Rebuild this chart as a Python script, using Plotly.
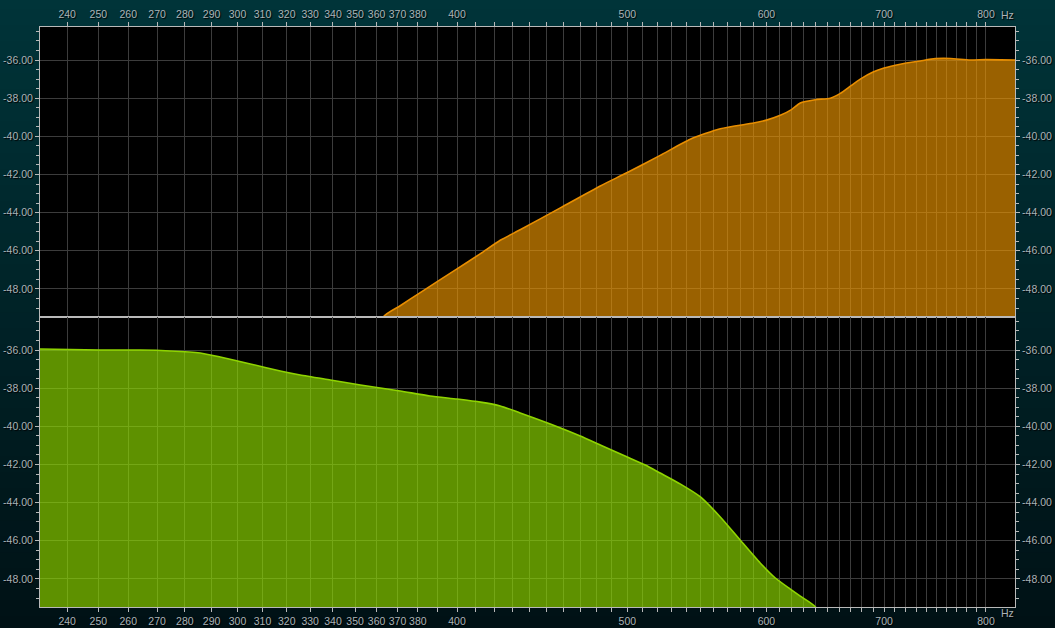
import math
import plotly.graph_objects as go

# ---------------- data ----------------
top_freq = [231.6, 360.0, 363.2, 371.3, 381.2, 400.0, 412.5, 423.3, 434.5, 458.0,
            482.6, 500.0, 522.0, 543.0, 564.8, 590.0, 600.0, 611.0, 620.0, 627.2,
            639.6, 652.4, 661.0, 670.0, 678.5, 690.0, 700.0, 715.0, 734.0, 748.6,
            763.5, 783.7, 800.0, 831.0]
top_db = [-52.0, -52.0, -49.47, -48.88, -48.19, -46.95, -46.15, -45.45, -44.90, -43.75,
          -42.60, -41.90, -41.00, -40.15, -39.60, -39.30, -39.15, -38.90, -38.60, -38.25,
          -38.08, -38.00, -37.75, -37.36, -37.00, -36.63, -36.42, -36.22, -36.05, -35.93,
          -35.92, -36.00, -35.98, -36.00]

bot_freq = [231.6, 250.6, 264.1, 274.7, 285.7, 293.3, 305.1, 317.3, 325.7, 338.8,
            352.4, 371.3, 386.1, 400.0, 412.5, 423.3, 434.5, 452.0, 470.1, 482.6,
            500.0, 511.9, 522.0, 536.1, 550.3, 564.8, 579.7, 595.1, 607.0, 619.1,
            627.2, 639.8, 650.0, 831.0]
bot_db = [-35.95, -36.00, -36.00, -36.05, -36.16, -36.37, -36.73, -37.10, -37.31, -37.57,
          -37.83, -38.15, -38.41, -38.57, -38.73, -38.93, -39.30, -39.88, -40.51, -40.98,
          -41.61, -42.03, -42.45, -43.03, -43.70, -44.75, -45.96, -47.16, -47.95, -48.53,
          -48.90, -49.47, -51.00, -51.00]

grid_freqs = list(range(240, 810, 10))
labeled_freqs = list(range(240, 390, 10)) + [400, 500, 600, 700, 800]
major_db = [-36, -38, -40, -42, -44, -46, -48]

x_min, x_max = 231.6, 831.0
y_min, y_max = -49.47, -34.27
floor_db = -60.0

# ---------------- styling ----------------
W, H = 1055, 628
ML, MR, MT, MB = 40, 40, 27, 21
font_main = dict(family="Liberation Sans, Arial, sans-serif", size=10.5, color="#aab3b7",
                 shadow="1px 1px 1px #000000")
grid_col = "#3c3c3c"
frame_col = "#b9b9b9"

ticktext = [str(f) if f in labeled_freqs else "" for f in grid_freqs]
ytext = ["%.2f" % v for v in major_db]

fig = go.Figure()

# top panel (orange)
fig.add_trace(go.Scatter(x=[x_min, x_max], y=[floor_db, floor_db], mode="lines",
                         line=dict(width=0), hoverinfo="skip", showlegend=False,
                         xaxis="x", yaxis="y"))
fig.add_trace(go.Scatter(x=top_freq, y=top_db, mode="lines", fill="tonexty",
                         fillcolor="rgba(248,156,0,0.62)",
                         line=dict(color="#e88e00", width=1.6, shape="spline", smoothing=0.6),
                         showlegend=False, xaxis="x", yaxis="y"))
# bottom panel (green)
fig.add_trace(go.Scatter(x=[x_min, x_max], y=[floor_db, floor_db], mode="lines",
                         line=dict(width=0), hoverinfo="skip", showlegend=False,
                         xaxis="x2", yaxis="y2"))
fig.add_trace(go.Scatter(x=bot_freq, y=bot_db, mode="lines", fill="tonexty",
                         fillcolor="rgba(152,234,0,0.62)",
                         line=dict(color="#8fd400", width=1.6, shape="spline", smoothing=0.6),
                         showlegend=False, xaxis="x2", yaxis="y2"))
# invisible traces to hold right-side axes
fig.add_trace(go.Scatter(x=[x_min], y=[y_min], mode="markers", marker=dict(opacity=0),
                         hoverinfo="skip", showlegend=False, xaxis="x", yaxis="y3"))
fig.add_trace(go.Scatter(x=[x_min], y=[y_min], mode="markers", marker=dict(opacity=0),
                         hoverinfo="skip", showlegend=False, xaxis="x2", yaxis="y4"))

xr = [math.log10(x_min), math.log10(x_max)]
xcommon = dict(type="log", range=xr, tickmode="array", tickvals=grid_freqs,
               ticktext=ticktext, showgrid=True, gridcolor=grid_col, gridwidth=1,
               ticks="outside", ticklen=4, tickcolor=frame_col, showline=True,
               linecolor=frame_col, linewidth=1, mirror=True, zeroline=False,
               tickfont=font_main, fixedrange=True, automargin=False)
ycommon = dict(range=[y_min, y_max], tickmode="array", tickvals=major_db, ticktext=ytext,
               showgrid=True, gridcolor=grid_col, gridwidth=1, ticks="outside", ticklen=4,
               tickcolor=frame_col, showline=True, linecolor=frame_col, linewidth=1,
               mirror=True, zeroline=False, tickfont=font_main, fixedrange=True,
               automargin=False,
               minor=dict(dtick=0.5, tick0=-36, ticks="outside", ticklen=3,
                          tickcolor=frame_col, showgrid=False))
yright = dict(range=[y_min, y_max], tickmode="array", tickvals=major_db, ticktext=ytext,
              showgrid=False, ticks="outside", ticklen=4, tickcolor=frame_col,
              showline=False, zeroline=False, tickfont=font_main, fixedrange=True,
              side="right", automargin=False,
              minor=dict(dtick=0.5, tick0=-36, ticks="outside", ticklen=3,
                         tickcolor=frame_col, showgrid=False))

fig.update_layout(
    width=W, height=H,
    margin=dict(l=ML, r=MR, t=MT, b=MB, pad=0, autoexpand=False),
    paper_bgcolor="#00252b", plot_bgcolor="#000000",
    xaxis=dict(xcommon, domain=[0, 1], anchor="y", side="top"),
    xaxis2=dict(xcommon, domain=[0, 1], anchor="y2", side="bottom"),
    yaxis=dict(ycommon, domain=[0.5, 1], anchor="x"),
    yaxis2=dict(ycommon, domain=[0, 0.5], anchor="x2"),
    yaxis3=dict(yright, overlaying="y", anchor="x"),
    yaxis4=dict(yright, overlaying="y2", anchor="x2"),
    showlegend=False,
)

# background gradient (paper) + black plot area
pw, ph = W - ML - MR, H - MT - MB
x0p, x1p = -ML / pw - 0.01, 1 + MR / pw + 0.01
y0p, y1p = -MB / ph - 0.01, 1 + MT / ph + 0.01
top_rgb = (0, 52, 57)
bot_rgb = (0, 17, 21)
n = 40
shapes = []
for i in range(n):
    t = i / (n - 1)
    c = tuple(round(top_rgb[k] + (bot_rgb[k] - top_rgb[k]) * t) for k in range(3))
    ya = y1p - (y1p - y0p) * i / n
    yb = y1p - (y1p - y0p) * (i + 1) / n
    shapes.append(dict(type="rect", xref="paper", yref="paper", x0=x0p, x1=x1p,
                       y0=yb - 0.002, y1=ya + 0.002, line=dict(width=0),
                       fillcolor="rgb(%d,%d,%d)" % c, layer="below"))
shapes.append(dict(type="rect", xref="paper", yref="paper", x0=0, x1=1, y0=0, y1=1,
                   line=dict(width=0), fillcolor="#000000", layer="below"))
fig.update_layout(shapes=shapes)

fig.add_annotation(text="Hz", xref="paper", yref="paper", x=(1007 - ML) / pw,
                   y=1 + (MT - 15) / ph, showarrow=False, font=font_main,
                   xanchor="center", yanchor="middle")
fig.add_annotation(text="Hz", xref="paper", yref="paper", x=(1007 - ML) / pw,
                   y=-(613 - (H - MB)) / ph, showarrow=False, font=font_main,
                   xanchor="center", yanchor="middle")

fig.write_html("out.html")
